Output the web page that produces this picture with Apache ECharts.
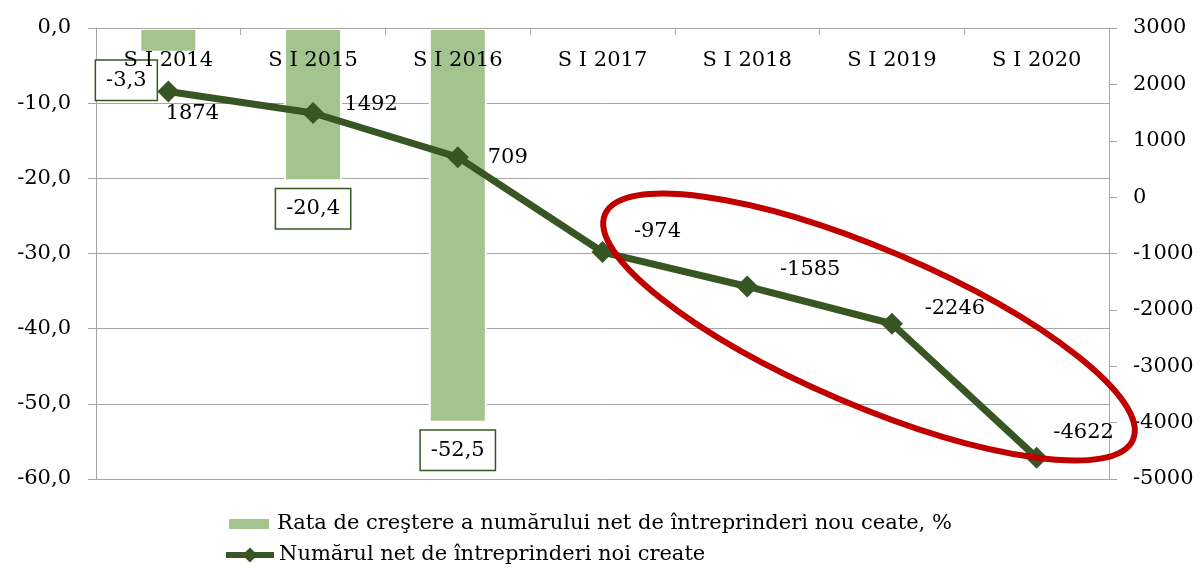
<!DOCTYPE html>
<html>
<head>
<meta charset="utf-8">
<script src="https://cdn.jsdelivr.net/npm/echarts@6/dist/echarts.min.js"></script>
<style>
  html, body { margin: 0; padding: 0; background: #fff; }
  #chart { width: 1203px; height: 570px; }
</style>
</head>
<body>
<div id="chart"></div>
<script>
// Semester labels (first half of each year)
const categories = ['S I 2014', 'S I 2015', 'S I 2016', 'S I 2017', 'S I 2018', 'S I 2019', 'S I 2020'];

// Growth rate of the net number of new enterprises, %
const growthRate = [-3.3, -20.4, -52.5, null, null, null, null];

// Net number of newly created enterprises
const netEnterprises = [1874, 1492, 709, -974, -1585, -2246, -4622];

// Axis ranges
const leftAxisRange = { min: -60, max: 0, interval: 10 };
const rightAxisRange = { min: -5000, max: 3000, interval: 1000 };

const barName = 'Rata de creştere a numărului net de întreprinderi nou ceate, %';
const lineName = 'Numărul net de întreprinderi noi create';

// Label placement tweaks (pixels)
const barLabelOffsets = [[-42, 0], [0, 0], [0, 0]];
const lineLabelOffsets = [[24, 22], [58, -8], [50, 0], [55, -20], [63, -17], [63, -15], [47, -25]];

const FONT = 'DejaVu Serif';
const GRID_GRAY = '#a6a6a6';
const BAR_GREEN = '#a3c48f';
const LINE_GREEN = '#375623';

const fmtComma = v => v.toFixed(1).replace('.', ',');

const barData = growthRate.map((v, i) => {
  if (v === null) return null;
  return {
    value: v,
    label: { offset: barLabelOffsets[i] || [0, 0] }
  };
});

const lineData = netEnterprises.map((v, i) => ({
  value: v,
  label: { offset: lineLabelOffsets[i] }
}));

const legendText = { fontFamily: FONT, fontSize: 21, color: '#000', lineHeight: 24 };

const chart = echarts.init(document.getElementById('chart'), null, { renderer: 'canvas' });

chart.setOption({
  animation: false,
  backgroundColor: '#ffffff',
  textStyle: { fontFamily: FONT, color: '#000' },
  grid: { left: 96, right: 94, top: 28, bottom: 91, containLabel: false },
  legend: [
    {
      left: 227,
      top: 512,
      padding: 0,
      itemWidth: 42,
      itemHeight: 12,
      textStyle: Object.assign({ padding: [0, 0, 0, 2] }, legendText),
      data: [{ name: barName, icon: 'rect' }]
    },
    {
      left: 223,
      top: 543,
      padding: 0,
      itemWidth: 48,
      itemHeight: 19,
      textStyle: legendText,
      lineStyle: { width: 6, color: LINE_GREEN },
      data: [{ name: lineName }]
    }
  ],
  xAxis: {
    type: 'category',
    position: 'top',
    data: categories,
    z: 5,
    axisLine: { show: true, lineStyle: { color: GRID_GRAY, width: 1 } },
    axisTick: { show: true, inside: true, length: 7, lineStyle: { color: GRID_GRAY } },
    axisLabel: {
      inside: true,
      margin: 22,
      fontFamily: FONT,
      fontSize: 21,
      color: '#000'
    },
    splitLine: { show: false }
  },
  yAxis: [
    {
      type: 'value',
      position: 'left',
      min: leftAxisRange.min,
      max: leftAxisRange.max,
      interval: leftAxisRange.interval,
      axisLine: { show: true, lineStyle: { color: GRID_GRAY } },
      axisTick: { show: true, length: 8, lineStyle: { color: GRID_GRAY } },
      axisLabel: {
        margin: 25,
        fontFamily: FONT,
        fontSize: 21,
        color: '#000',
        formatter: fmtComma
      },
      splitLine: { show: true, lineStyle: { color: GRID_GRAY, width: 1 } }
    },
    {
      type: 'value',
      position: 'right',
      min: rightAxisRange.min,
      max: rightAxisRange.max,
      interval: rightAxisRange.interval,
      axisLine: { show: true, lineStyle: { color: GRID_GRAY } },
      axisTick: { show: true, length: 8, lineStyle: { color: GRID_GRAY } },
      axisLabel: {
        margin: 24,
        fontFamily: FONT,
        fontSize: 21,
        color: '#000',
        formatter: v => String(v)
      },
      splitLine: { show: false }
    }
  ],
  series: [
    {
      name: barName,
      type: 'bar',
      yAxisIndex: 0,
      data: barData,
      barWidth: 58,
      itemStyle: { color: BAR_GREEN, borderColor: '#ffffff', borderWidth: 2 },
      label: {
        show: true,
        position: 'bottom',
        distance: 8,
        formatter: p => fmtComma(p.value),
        fontFamily: FONT,
        fontSize: 21,
        color: '#000',
        backgroundColor: '#ffffff',
        borderColor: LINE_GREEN,
        borderWidth: 1.5,
        padding: [9, 10, 9, 10]
      },
      z: 2
    },
    {
      name: lineName,
      type: 'line',
      yAxisIndex: 1,
      data: lineData,
      symbol: 'diamond',
      symbolSize: 22,
      lineStyle: { color: LINE_GREEN, width: 7 },
      itemStyle: { color: LINE_GREEN },
      label: {
        show: true,
        position: 'inside',
        align: 'center',
        verticalAlign: 'middle',
        fontFamily: FONT,
        fontSize: 21,
        color: '#000'
      },
      z: 4
    }
  ],
  graphic: [
    {
      // Highlight around the 2017–2020 decline
      type: 'ellipse',
      x: 869,
      y: 327,
      rotation: -0.403,
      shape: { cx: 0, cy: 0, rx: 287, ry: 78 },
      style: { fill: 'none', stroke: '#c00000', lineWidth: 6 },
      z: 50,
      silent: true
    }
  ]
});
</script>
</body>
</html>
